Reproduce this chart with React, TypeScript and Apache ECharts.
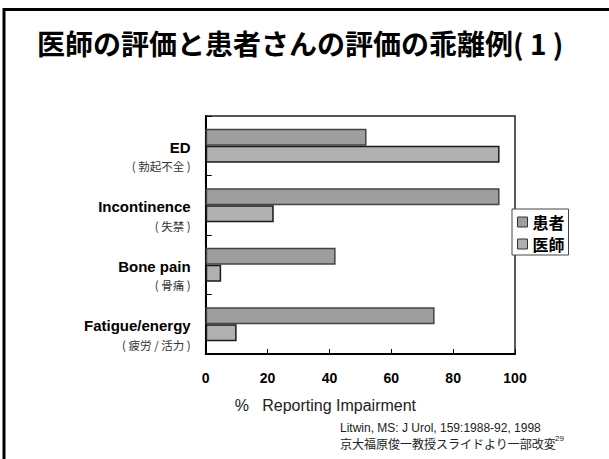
import React, { useEffect, useRef } from "react";
import * as echarts from "echarts";

const categories = ["ED", "Incontinence", "Bone pain", "Fatigue/energy"];
const categoriesJa = ["( 勃起不全 )", "( 失禁 )", "( 骨痛 )", "( 疲労 / 活力 )"];
const seriesNames = ["患者", "医師"];
const patientValues = [52, 95, 42, 74];
const doctorValues = [95, 22, 5, 10];
const xTicks = [0, 20, 40, 60, 80, 100];

const LATIN = "'Liberation Sans', Arial, 'Noto Sans CJK JP', sans-serif";
const CJK = "'Noto Sans CJK JP', 'Liberation Sans', sans-serif";

export default function App() {
  const ref = useRef<HTMLDivElement>(null);
  useEffect(() => {
    document.body.style.margin = "0";
    const chart = echarts.init(ref.current!, null, { renderer: "svg" });
    chart.setOption({
      animation: false,
      backgroundColor: "#ffffff",
      title: {
        text: "医師の評価と患者さんの評価の乖離例( 1 )",
        left: 37,
        top: 29,
        padding: 0,
        textStyle: { fontSize: 28, fontWeight: "bold", color: "#000", fontFamily: CJK },
      },
      legend: {
        orient: "vertical",
        left: 512,
        top: 209,
        data: seriesNames,
        icon: "rect",
        itemWidth: 10,
        itemHeight: 10,
        itemGap: 6,
        padding: [5, 4, 3, 5],
        borderColor: "#444",
        borderWidth: 1,
        backgroundColor: "#fff",
        itemStyle: { borderColor: "#333", borderWidth: 1 },
        textStyle: { fontSize: 16, fontWeight: "bold", color: "#000", fontFamily: CJK },
      },
      grid: {
        left: 205.7,
        right: 94,
        top: 116,
        bottom: 105,
        show: true,
        borderColor: "#222",
        borderWidth: 1.5,
        containLabel: false,
      },
      xAxis: {
        type: "value",
        min: xTicks[0],
        max: xTicks[xTicks.length - 1],
        interval: 20,
        name: "%   Reporting Impairment",
        nameLocation: "middle",
        nameGap: 43,
        nameTextStyle: { fontSize: 16, color: "#222", fontFamily: LATIN, padding: [0, 70, 0, 0] },
        axisLine: { show: true, lineStyle: { color: "#000", width: 2 } },
        axisTick: { show: true, inside: true, length: 5, lineStyle: { color: "#000", width: 1 } },
        splitLine: { show: false },
        axisLabel: { fontSize: 14, fontWeight: "bold", color: "#000", margin: 17, fontFamily: LATIN },
      },
      yAxis: {
        type: "category",
        inverse: true,
        data: categories,
        axisLine: { show: true, lineStyle: { color: "#000", width: 2 } },
        axisTick: { show: true, inside: true, length: 6, lineStyle: { color: "#000", width: 1 } },
        axisLabel: {
          margin: 15,
          align: "right",
          padding: [22, 0, 0, 0],
          formatter: (v: string, i: number) => `{en|${v}}\n{jp|${categoriesJa[i]}}`,
          rich: {
            en: { fontSize: 15, fontWeight: "bold", color: "#000", lineHeight: 19, fontFamily: LATIN, align: "right" },
            jp: { fontSize: 11.5, color: "#333", lineHeight: 19, fontFamily: CJK, align: "right" },
          },
        },
      },
      series: [
        {
          name: seriesNames[0],
          type: "bar",
          data: patientValues,
          barWidth: 17,
          barGap: "0%",
          itemStyle: { color: "#9e9e9e", borderColor: "#444", borderWidth: 1.5 },
        },
        {
          name: seriesNames[1],
          type: "bar",
          data: doctorValues,
          barWidth: 17,
          barGap: "0%",
          itemStyle: { color: "#b0b0b0", borderColor: "#1a1a1a", borderWidth: 1.5 },
        },
      ],
      graphic: [
        {
          type: "rect",
          shape: { x: 4, y: 9.5, width: 700, height: 500 },
          style: { fill: "none", stroke: "#000", lineWidth: 3 },
          silent: true,
        },
        {
          type: "text",
          left: 340,
          top: 422,
          style: { text: "Litwin, MS: J Urol, 159:1988-92, 1998", fontSize: 12, fill: "#222", fontFamily: LATIN },
        },
        {
          type: "text",
          left: 340,
          top: 437,
          style: { text: "京大福原俊一教授スライドより一部改変", fontSize: 12, fill: "#222", fontFamily: CJK },
        },
        {
          type: "text",
          left: 555,
          top: 434,
          style: { text: "29", fontSize: 8, fill: "#222", fontFamily: LATIN },
        },
      ],
    });
    return () => chart.dispose();
  }, []);
  return <div ref={ref} style={{ position: "fixed", left: 0, top: 0, width: 609, height: 459 }} />;
}
